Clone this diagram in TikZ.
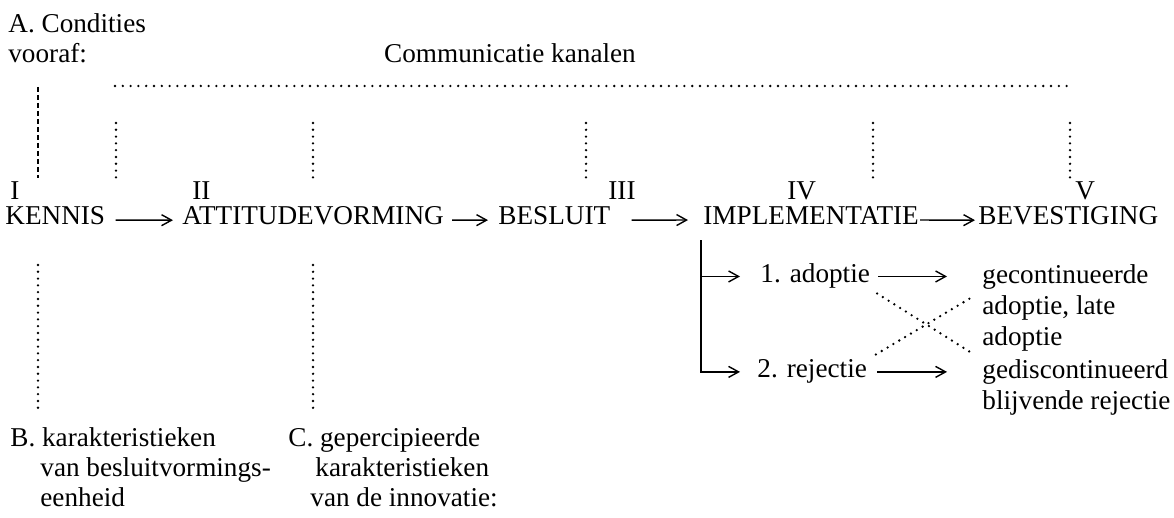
\documentclass[tikz,border=0pt]{standalone}
\usepackage{fontspec}
\setmainfont{Liberation Serif}
\usetikzlibrary{arrows.meta}
\tikzset{
  lbl/.style={
    inner sep=0pt, align=left, font=\fontsize{13.6pt}{15pt}\selectfont
  },
  stage/.style={
    lbl, anchor=base west
  },
  flow/.style={
    -{Straight Barb[length=5pt, width=5.5pt]}, line width=0.7pt
  },
  dotline/.style={
    line width=1.3pt, line cap=round, dash pattern=on 0pt off 3.4pt
  },
  dashline/.style={
    line width=1pt, dash pattern=on 2.5pt off 1.5pt
  }
}
\begin{document}
\begin{tikzpicture}[x=0.5pt, y=-0.5pt]

  \fill[white] (0,0) rectangle (1174,518);
  \useasboundingbox (0,0) rectangle (1174,518);

  % Top labels
  \node[lbl, anchor=north west] (condities) at (8,13.5) {A. Condities\\vooraf:};
  \node[lbl, anchor=base] (kanalen) at (510,63) {Communicatie kanalen};

  % Communication channels
  \draw[dotline, dash pattern=on 0pt off 3.9pt] (115,86) -- (1068,86);
  \foreach \x in {116,313,586,873,1070}
    \draw[dotline] (\x,123) -- (\x,180);
  \draw[dashline] (38,87) -- (38,178);

  % Stage numbers
  \node[stage] (n1) at (10,200) {I};
  \node[stage] (n2) at (192,200) {II};
  \node[stage] (n3) at (608,200) {III};
  \node[stage] (n4) at (787,200) {IV};
  \node[stage] (n5) at (1075,200) {V};

  % Stages
  \node[stage] (kennis) at (5,225) {KENNIS};
  \node[stage] (attitude) at (182,225) {ATTITUDEVORMING};
  \node[stage] (besluit) at (498,225) {BESLUIT};
  \node[stage] (impl) at (703,225) {IMPLEMENTATIE};
  \node[stage] (bevest) at (978,225) {BEVESTIGING};

  \draw[flow, shorten <=5pt, shorten >=4.5pt] ([yshift=-2pt]kennis.east) -- ([yshift=-2pt]attitude.west);
  \draw[flow, shorten <=4pt, shorten >=5pt] ([yshift=-2pt]attitude.east) -- ([yshift=-2pt]besluit.west);
  \draw[flow, shorten <=10.5pt, shorten >=7.5pt] ([yshift=-2pt]besluit.east) -- ([yshift=-2pt]impl.west);
  \draw[flow, shorten <=0.5pt, shorten >=1.5pt] ([yshift=-2pt]impl.east) -- ([yshift=-2pt]bevest.west);

  % Implementation outcomes
  \node[stage] (adoptie) at (760,283) {1. adoptie};
  \node[stage] (rejectie) at (757,378) {2. rejectie};
  \node[lbl, anchor=north west, font=\fontsize{13.6pt}{15.5pt}\selectfont] (cont) at (982,264.5)
    {gecontinueerde\\adoptie, late\\adoptie};
  \node[lbl, anchor=north west, font=\fontsize{13.6pt}{15.5pt}\selectfont] (disc) at (982,359.5)
    {gediscontinueerd\\blijvende rejectie};

  \coordinate (branch) at ([xshift=-1pt, yshift=-7.5pt]impl.south west);
  \draw[flow, shorten >=8.5pt] (branch) |- (rejectie.west);
  \draw[flow, shorten >=10pt] (branch |- adoptie.west) -- (adoptie.west);
  \draw[flow, shorten <=4pt, shorten >=17.5pt] (adoptie.east) -- (adoptie.east -| cont.west);
  \draw[flow, shorten <=5pt, shorten >=17.5pt] (rejectie.east) -- (rejectie.east -| disc.west);
  \draw[dotline, shorten <=4pt, shorten >=7pt] (adoptie.south east) -- (disc.north west);
  \draw[dotline, shorten <=5pt, shorten >=7pt] (rejectie.north east) -- ([yshift=8.5pt]cont.west);

  % Characteristics
  \foreach \x in {38,313}
    \draw[dotline] (\x,265) -- (\x,413);
  \node[lbl, anchor=north west] (beenheid) at (10,427)
    {B. karakteristieken\\\hspace*{15pt}van besluitvormings-\\\hspace*{15pt}eenheid};
  \node[lbl, anchor=north west] (cinnov) at (288,427)
    {C. gepercipieerde\\\hspace*{13.5pt}karakteristieken\\\hspace*{11pt}van de innovatie:};

\end{tikzpicture}
\end{document}
